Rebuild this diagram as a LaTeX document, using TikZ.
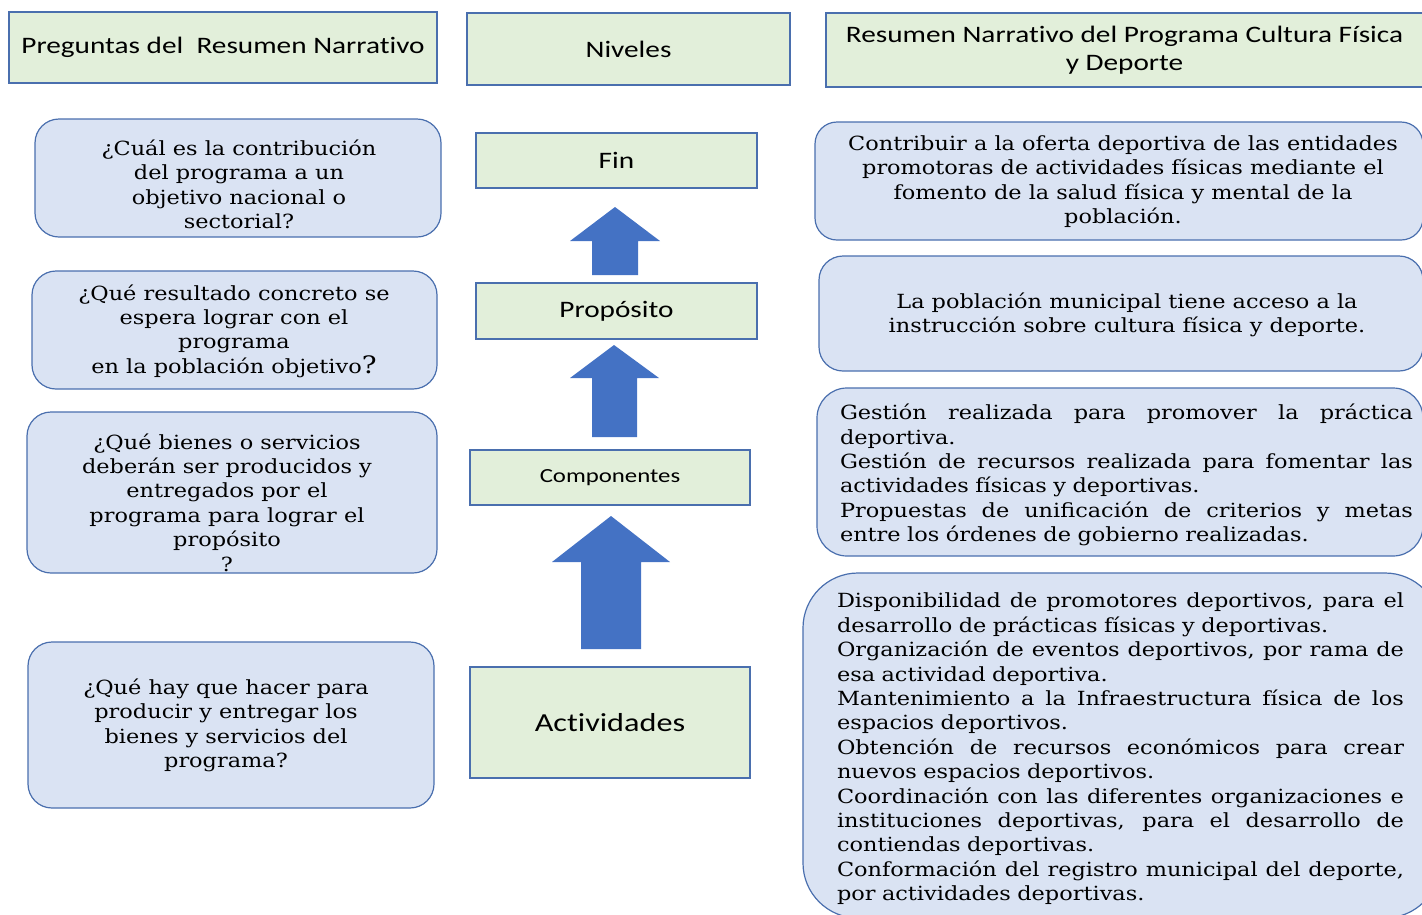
\documentclass[tikz,border=0pt]{standalone}
\usepackage{fontspec}
\setmainfont{DejaVu Serif}[FakeStretch=1.15]
\setsansfont{Carlito}[FakeStretch=1.24,Ligatures={NoCommon,NoRare,NoContextual}]

\definecolor{verdeclaro}{HTML}{E2EFDA}
\definecolor{azulclaro}{HTML}{DAE3F3}
\definecolor{azulborde}{HTML}{4A6FAE}
\definecolor{azulflecha}{HTML}{4472C4}

\newcommand{\encab}{\sffamily\fontsize{23.6}{28}\selectfont}
\newcommand{\cuerpo}{\fontsize{19.5}{24.4}\selectfont}
% linea justificada a todo el ancho
\newlength{\jw}
\newcommand{\jl}[1]{\makebox[\jw][s]{\spaceskip=0.33em plus 3em minus 0.05em\relax #1}}

\begin{document}
\begin{tikzpicture}[x=1pt,y=-1pt,
  nivel/.style={draw=azulborde,fill=verdeclaro,line width=1.2pt,inner sep=0pt,font=\encab,align=center},
  caja/.style={draw=azulborde,fill=azulclaro,line width=1.2pt,rounded corners=#1},
  caja/.default=24pt,
  texto/.style={inner sep=0pt,font=\cuerpo,align=center},
  flecha/.style={fill=azulflecha}]
  \useasboundingbox (0,0) rectangle (1422,914);

  % encabezados
  \node[nivel,minimum width=428pt,minimum height=71pt] (preg) at (223,47.5) {Preguntas del\ \ Resumen Narrativo};
  \node[nivel,minimum width=323pt,minimum height=72pt] (niv) at (628.5,49) {Niveles};
  \node[nivel,minimum width=597pt,minimum height=74pt] (res) at (1124.5,50) {Resumen Narrativo del Programa Cultura Física\\y Deporte};

  % preguntas
  \node[caja,minimum width=406pt,minimum height=118pt] (q1) at (238,178) {};
  \node[texto] (tq1) at (239,184.5) {¿Cuál es la contribución\\del programa a un\\objetivo nacional o\\sectorial?};
  \node[caja,minimum width=405pt,minimum height=118pt] (q2) at (234.5,330) {};
  \node[texto] (tq2) at (234,331) {¿Qué resultado concreto se\\espera lograr con el\\programa\\en la población objetivo{\fontsize{24}{24.4}\selectfont ?}};
  \node[caja,minimum width=410pt,minimum height=161pt] (q3) at (232,492.5) {};
  \node[texto] (tq3) at (227,502.5) {¿Qué bienes o servicios\\deberán ser producidos y\\entregados por el\\programa para lograr el\\propósito\\?};
  \node[caja,minimum width=406pt,minimum height=166pt] (q4) at (231,725) {};
  \node[texto] (tq4) at (226,725.5) {¿Qué hay que hacer para\\producir y entregar los\\bienes y servicios del\\programa?};

  % niveles
  \node[nivel,minimum width=281pt,minimum height=55pt] (fin) at (616.5,160.5) {Fin};
  \node[nivel,minimum width=281pt,minimum height=56pt] (prop) at (616.5,311) {Propósito};
  \node[nivel,minimum width=280pt,minimum height=55pt,font=\sffamily\fontsize{20}{24}\selectfont] (comp) at (610,477.5) {Componentes};
  \node[nivel,minimum width=280pt,minimum height=111pt,font=\sffamily\fontsize{26}{30}\selectfont] (act) at (610,722.5) {Actividades};

  % flechas
  \fill[flecha] (615,207) -- (660,241) -- (638,241) -- (638,275) -- (592,275) -- (592,241) -- (570,241) -- cycle;
  \fill[flecha] (614,345) -- (659,378) -- (637,378) -- (637,437) -- (592,437) -- (592,378) -- (570,378) -- cycle;
  \fill[flecha] (611,516) -- (670,562) -- (641,562) -- (641,649) -- (581,649) -- (581,562) -- (552,562) -- cycle;

  % resumen narrativo
  \node[caja=22pt,minimum width=608pt,minimum height=118pt] (r1) at (1119,181) {};
  \node[texto] (tr1) at (1123,181.5) {Contribuir a la oferta deportiva de las entidades\\promotoras de actividades físicas mediante el\\fomento de la salud física y mental de la\\población.};
  \node[caja=24pt,minimum width=604pt,minimum height=115pt] (r2) at (1121,313.5) {};
  \node[texto] (tr2) at (1127,315) {La población municipal tiene acceso a la\\instrucción sobre cultura física y deporte.};
  \node[caja=30pt,minimum width=606pt,minimum height=168pt] (r3) at (1120,472) {};
  \node[texto,align=left,text width=573pt] (tr3) at (1126.5,475) {\setlength{\jw}{573pt}\jl{Gestión realizada para promover la práctica}\\deportiva.\\\jl{Gestión de recursos realizada para fomentar las}\\actividades físicas y deportivas.\\\jl{Propuestas de unificación de criterios y metas}\\entre los órdenes de gobierno realizadas.};
  \node[caja=55pt,minimum width=637pt,minimum height=345pt] (r4) at (1121.5,745.5) {};
  \node[texto,align=left,text width=567pt] (tr4) at (1120.5,749) {\setlength{\jw}{567pt}\jl{Disponibilidad de promotores deportivos, para el}\\desarrollo de prácticas físicas y deportivas.\\\jl{Organización de eventos deportivos, por rama de}\\esa actividad deportiva.\\\jl{Mantenimiento a la Infraestructura física de los}\\espacios deportivos.\\\jl{Obtención de recursos económicos para crear}\\nuevos espacios deportivos.\\\jl{Coordinación con las diferentes organizaciones e}\\\jl{instituciones deportivas, para el desarrollo de}\\contiendas deportivas.\\\jl{Conformación del registro municipal del deporte,}\\por actividades deportivas.};
\end{tikzpicture}
\end{document}
